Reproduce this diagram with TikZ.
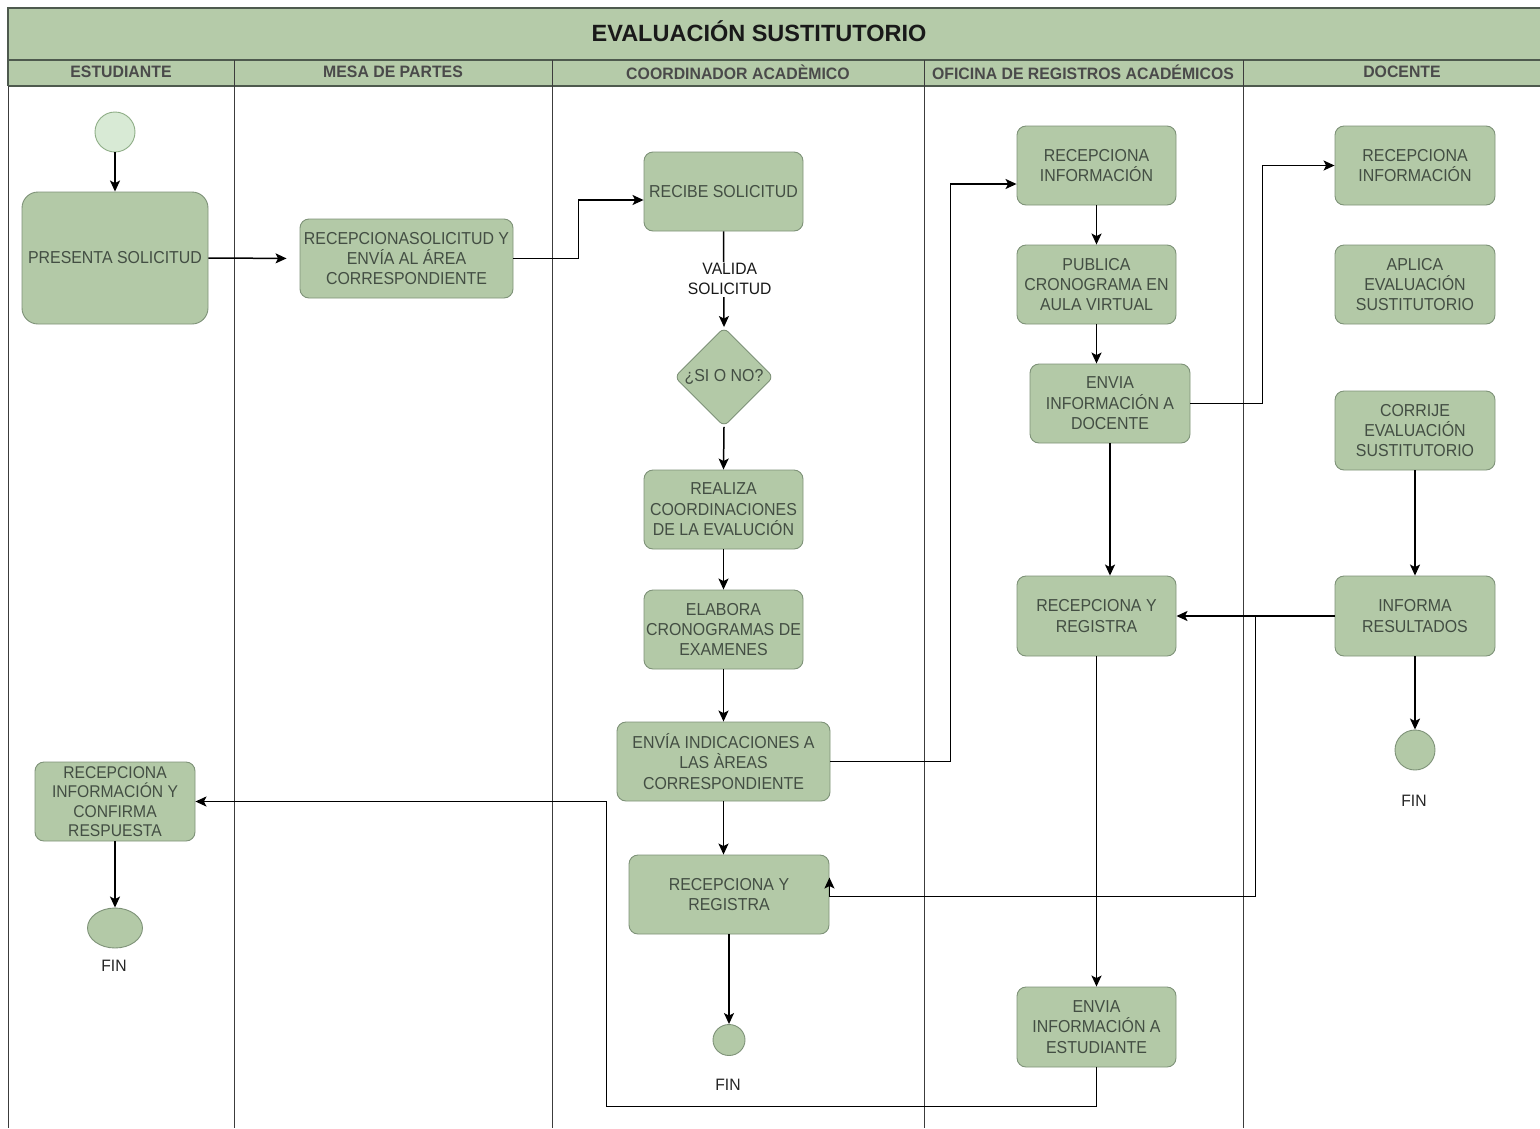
\documentclass[tikz,border=0pt]{standalone}
\usepackage{fontspec}
\setmainfont{Liberation Sans}
\newfontfamily\boxfont[FakeStretch=0.92]{Liberation Sans}
\newfontfamily\lanefont[FakeStretch=0.96]{Liberation Sans}
\newfontfamily\finfont[FakeStretch=0.95]{Liberation Sans}
\usetikzlibrary{shapes.geometric,arrows.meta}

\definecolor{boxfill}{HTML}{B3C9A7}
\definecolor{boxline}{HTML}{7E9278}
\definecolor{boxtext}{HTML}{434E43}
\definecolor{headfill}{HTML}{B5CBA9}
\definecolor{headline}{HTML}{4E5A4E}
\definecolor{lanetext}{HTML}{4A4A4A}
\definecolor{laneline}{HTML}{3C3C3C}
\definecolor{startfill}{HTML}{D8EAD5}
\definecolor{startline}{HTML}{8EAD86}

\begin{document}
\begin{tikzpicture}[x=1pt,y=-1pt,
  act/.style={draw=boxline, fill=boxfill, rounded corners=9pt, line width=0.9pt,
    minimum width=159pt, minimum height=79pt, inner sep=0pt, align=center,
    text=boxtext, font=\boxfont\fontsize{17.3}{20.4}\selectfont},
  decision/.style={draw=boxline, fill=boxfill, diamond, rounded corners=6pt,
    line width=0.9pt, minimum width=99pt, minimum height=99pt, inner sep=0pt,
    text=boxtext, font=\boxfont\fontsize{17.3}{20.4}\selectfont},
  endnode/.style={draw=boxline, fill=boxfill, ellipse, line width=0.9pt, inner sep=0pt},
  startnode/.style={draw=startline, fill=startfill, circle, line width=0.9pt,
    minimum size=40pt, inner sep=0pt},
  fintext/.style={text=black!85, font=\finfont\fontsize{16.5}{19}\selectfont},
  lanehead/.style={text=lanetext, font=\lanefont\bfseries\fontsize{16.5}{20}\selectfont},
  lane/.style={draw=laneline, line width=1pt},
  arr/.style={draw=black, line width=1.5pt, -{Stealth[length=11pt,width=10pt,inset=2.5pt]}},
  flow/.style={draw=black, line width=1.5pt}
]
\useasboundingbox (0,0) rectangle (1540,1128);
\fill[white] (0,0) rectangle (1540,1128);

% pool title and lane headers
\path[fill=headfill] (8,8) rectangle (1540,86);
\draw[headline, line width=1.8pt] (1540,8) -- (8,8) -- (8,86);
\draw[headline, line width=1.3pt] (8,60) -- (1540,60);
\draw[headline, line width=1.3pt] (8,86) -- (1540,86);
\node[text=black!90, font=\bfseries\fontsize{23.5}{27}\selectfont] (title) at (759,31) {EVALUACIÓN SUSTITUTORIO};

% lane separators
\draw[lane] (8,86) -- (8,1128);
\foreach \lx in {234,552,924,1243} {\draw[lane] (\lx,60) -- (\lx,1128);}

\node[lanehead] (h1) at (121,72) {ESTUDIANTE};
\node[lanehead] (h2) at (393,72) {MESA DE PARTES};
\node[lanehead] (h3) at (738,72) {COORDINADOR ACADÈMICO};
\node[lanehead] (h4) at (1083,72) {OFICINA DE REGISTROS ACADÉMICOS};
\node[lanehead] (h5) at (1402,72) {DOCENTE};

% ESTUDIANTE
\node[startnode] (start) at (115,132) {};
\node[act, minimum width=186pt, minimum height=132pt, rounded corners=16pt] (pres) at (115,258) {PRESENTA SOLICITUD};
\node[act, minimum width=160pt, font=\boxfont\fontsize{17}{19.3}\selectfont] (estr) at (115,801.5) {RECEPCIONA\\INFORMACIÓN Y\\CONFIRMA\\RESPUESTA};
\node[endnode, minimum width=55pt, minimum height=40pt] (estend) at (115,928) {};
\node[fintext] (estfin) at (114,966) {FIN};

% MESA DE PARTES
\node[act, minimum width=213pt] (rsol) at (406.5,258.5) {RECEPCIONASOLICITUD Y\\ENVÍA AL ÁREA\\CORRESPONDIENTE};

% COORDINADOR ACADEMICO
\node[act] (recibe) at (723.5,191.5) {RECIBE SOLICITUD};
\node[decision] (dec) at (724,377) {¿SI O NO?};
\node[act] (realiza) at (723.5,509.5) {REALIZA\\COORDINACIONES\\DE LA EVALUCIÓN};
\node[act] (elabora) at (723.5,629.5) {ELABORA\\CRONOGRAMAS DE\\EXAMENES};
\node[act, minimum width=213pt] (envind) at (723.5,761.5) {ENVÍA INDICACIONES A\\LAS ÀREAS\\CORRESPONDIENTE};
\node[act, minimum width=200pt] (crr) at (729,894.5) {RECEPCIONA Y\\REGISTRA};
\node[endnode, minimum width=32pt, minimum height=31pt] (coend) at (729,1040) {};
\node[fintext] (cofin) at (728,1085) {FIN};

% OFICINA DE REGISTROS ACADEMICOS
\node[act] (orai) at (1096.5,165.5) {RECEPCIONA\\INFORMACIÓN};
\node[act] (orap) at (1096.5,284.5) {PUBLICA\\CRONOGRAMA EN\\AULA VIRTUAL};
\node[act, minimum width=160pt] (orad) at (1110,403.5) {ENVIA\\INFORMACIÓN A\\DOCENTE};
\node[act, minimum height=80pt] (orr) at (1096.5,616) {RECEPCIONA Y\\REGISTRA};
\node[act, minimum height=80pt] (orae) at (1096.5,1027) {ENVIA\\INFORMACIÓN A\\ESTUDIANTE};

% DOCENTE
\node[act, minimum width=160pt] (doci) at (1415,165.5) {RECEPCIONA\\INFORMACIÓN};
\node[act, minimum width=160pt] (doca) at (1415,284.5) {APLICA\\EVALUACIÓN\\SUSTITUTORIO};
\node[act, minimum width=160pt] (docc) at (1415,430.5) {CORRIJE\\EVALUACIÓN\\SUSTITUTORIO};
\node[act, minimum width=160pt, minimum height=80pt] (docinf) at (1415,616) {INFORMA\\RESULTADOS};
\node[endnode, minimum width=40pt, minimum height=40pt] (docend) at (1415,750) {};
\node[fintext] (docfin) at (1414,801) {FIN};

% connectors
\draw[arr] (start) -- (pres);
\draw[arr, shorten >=13pt] (pres.east) -- (rsol.west);
\draw[arr] (rsol.east) -- ++(65,0) |- ([yshift=-8.5pt]recibe.west);
\draw[arr] (recibe.south) -- node[fill=white, inner sep=1.5pt, align=center, text=black!90,
  xshift=6pt, font=\finfont\fontsize{16.5}{20}\selectfont] (valida) {VALIDA\\SOLICITUD} (dec.north);
\draw[arr] (dec.south) -- (realiza.north);
\draw[arr] (realiza.south) -- (elabora.north);
\draw[arr] (elabora.south) -- (envind.north);
\draw[arr] (envind.south) -- (envind.south |- crr.north);
\draw[arr] (crr.south) -- (coend.north);
\draw[arr] (envind.east) -- ++(120,0) |- ([yshift=-18.5pt]orai.west);
\draw[arr] (orai.south) -- (orap.north);
\draw[arr] (orap.south) -- (orap.south |- orad.north);
\draw[arr] (orad.east) -- ++(72,0) |- (doci.west);
\draw[arr] (orad.south) -- (orad.south |- orr.north);
\draw[arr] (docc.south) -- (docinf.north);
\draw[arr] (docinf.west) -- (orr.east);
\draw[arr] (docinf.west) -- ++(-79,0) |- ([yshift=-2pt]crr.east) -- ++(0,-19);
\draw[arr] (docinf.south) -- (docend.north);
\draw[arr] (orr.south) -- (orae.north);
\draw[arr] (orae.south) -- ++(0,39) -| ([xshift=411pt]estr.east) -- (estr.east);
\draw[arr] (estr.south) -- (estend.north);
\end{tikzpicture}
\end{document}
